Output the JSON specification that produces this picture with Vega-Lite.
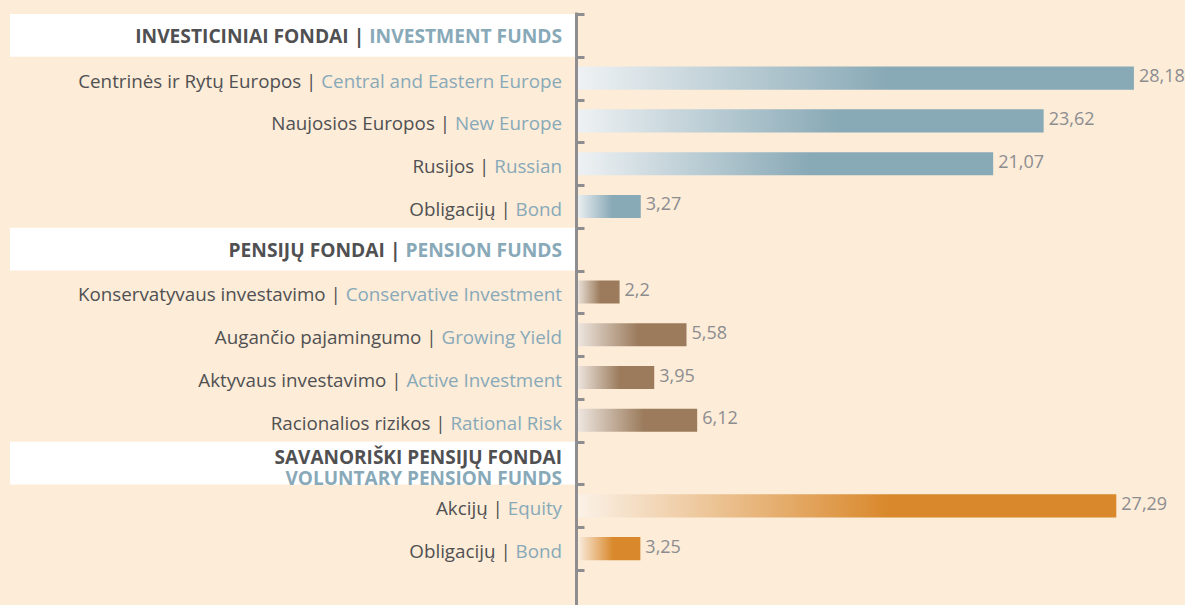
{
  "$schema": "https://vega.github.io/schema/vega-lite/v6.json",
  "width": 1175,
  "height": 593,
  "autosize": "none",
  "padding": {"left": 10, "top": 12, "right": 0, "bottom": 0},
  "background": "#fcecd8",
  "config": {
    "view": {"stroke": null},
    "locale": {"number": {"decimal": ",", "thousands": ".", "grouping": [3], "currency": ["", ""]}},
    "text": {"font": "Open Sans"}
  },
  "data": {
    "values": [
      {"i": 1, "lt": "INVESTICINIAI FONDAI", "en": "INVESTMENT FUNDS", "v": null, "g": "h"},
      {"i": 2, "lt": "Centrinės ir Rytų Europos", "en": "Central and Eastern Europe", "v": 28.18, "g": "inv"},
      {"i": 3, "lt": "Naujosios Europos", "en": "New Europe", "v": 23.62, "g": "inv"},
      {"i": 4, "lt": "Rusijos", "en": "Russian", "v": 21.07, "g": "inv"},
      {"i": 5, "lt": "Obligacijų", "en": "Bond", "v": 3.27, "g": "inv"},
      {"i": 6, "lt": "PENSIJŲ FONDAI", "en": "PENSION FUNDS", "v": null, "g": "h"},
      {"i": 7, "lt": "Konservatyvaus investavimo", "en": "Conservative Investment", "v": 2.2, "g": "pen"},
      {"i": 8, "lt": "Augančio pajamingumo", "en": "Growing Yield", "v": 5.58, "g": "pen"},
      {"i": 9, "lt": "Aktyvaus investavimo", "en": "Active Investment", "v": 3.95, "g": "pen"},
      {"i": 10, "lt": "Racionalios rizikos", "en": "Rational Risk", "v": 6.12, "g": "pen"},
      {"i": 11, "lt": "SAVANORIŠKI PENSIJŲ FONDAI", "en": "VOLUNTARY PENSION FUNDS", "v": null, "g": "h2"},
      {"i": 12, "lt": "Akcijų", "en": "Equity", "v": 27.29, "g": "vol"},
      {"i": 13, "lt": "Obligacijų", "en": "Bond", "v": 3.25, "g": "vol"}
    ]
  },
  "transform": [{"calculate": "datum.lt + ' | ' + datum.en", "as": "full"}],
  "encoding": {
    "y": {
      "field": "i", "type": "ordinal",
      "scale": {"paddingInner": 0, "paddingOuter": 0.4326, "align": 0.054},
      "axis": {"offset": -566, "labels": false, "title": null, "grid": false, "tickBand": "extent",
        "tickSize": -8, "tickWidth": 3, "tickColor": "#8e8e91", "domainColor": "#8e8e91", "domainWidth": 3, "zindex": 1}
    }
  },
  "layer": [
    {
      "transform": [{"filter": "datum.g == 'h' || datum.g == 'h2'"}],
      "mark": {"type": "bar", "color": "#ffffff"},
      "encoding": {
        "x": {"datum": -28.59, "type": "quantitative", "scale": {"domain": [-28.59, 30.76], "nice": false, "zero": false}, "axis": null},
        "x2": {"datum": 0}
      }
    },
    {
      "transform": [{"filter": "datum.g == 'inv'"}],
      "mark": {"type": "bar", "height": {"band": 0.54},
        "color": {"gradient": "linear", "x1": 0, "y1": 0, "x2": 1, "y2": 0,
          "stops": [{"offset": 0, "color": "#eff2f4"}, {"offset": 0.56, "color": "#88a9b6"}, {"offset": 1, "color": "#88a9b6"}]}},
      "encoding": {
        "x": {"field": "v", "type": "quantitative", "scale": {"domain": [-28.59, 30.76], "nice": false, "zero": false}, "axis": null},
        "x2": {"datum": 0}
      }
    },
    {
      "transform": [{"filter": "datum.g == 'pen'"}],
      "mark": {"type": "bar", "height": {"band": 0.54},
        "color": {"gradient": "linear", "x1": 0, "y1": 0, "x2": 1, "y2": 0,
          "stops": [{"offset": 0, "color": "#f0e9e3"}, {"offset": 0.56, "color": "#9b7b5c"}, {"offset": 1, "color": "#9b7b5c"}]}},
      "encoding": {
        "x": {"field": "v", "type": "quantitative"},
        "x2": {"datum": 0}
      }
    },
    {
      "transform": [{"filter": "datum.g == 'vol'"}],
      "mark": {"type": "bar", "height": {"band": 0.54},
        "color": {"gradient": "linear", "x1": 0, "y1": 0, "x2": 1, "y2": 0,
          "stops": [{"offset": 0, "color": "#fbf2e8"}, {"offset": 0.58, "color": "#d9882b"}, {"offset": 1, "color": "#d9882b"}]}},
      "encoding": {
        "x": {"field": "v", "type": "quantitative"},
        "x2": {"datum": 0}
      }
    },
    {
      "transform": [{"filter": "datum.v != null"}],
      "mark": {"type": "text", "align": "left", "baseline": "middle", "dx": 5, "dy": -1, "fontSize": 18, "color": "#8d8d90"},
      "encoding": {
        "x": {"field": "v", "type": "quantitative"},
        "text": {"field": "v", "type": "quantitative", "format": ".2~f"}
      }
    },
    {
      "transform": [{"filter": "datum.v != null"}],
      "mark": {"type": "text", "align": "right", "baseline": "middle", "dx": -14, "dy": 3.5, "fontSize": 18.8, "color": "#505052"},
      "encoding": {"x": {"datum": 0}, "text": {"field": "full"}}
    },
    {
      "transform": [{"filter": "datum.v != null"}],
      "mark": {"type": "text", "align": "right", "baseline": "middle", "dx": -14, "dy": 3.5, "fontSize": 18.8, "color": "#fcecd8", "stroke": "#fcecd8", "strokeWidth": 2.5},
      "encoding": {"x": {"datum": 0}, "text": {"field": "en"}}
    },
    {
      "transform": [{"filter": "datum.v != null"}],
      "mark": {"type": "text", "align": "right", "baseline": "middle", "dx": -14, "dy": 3.5, "fontSize": 18.8, "color": "#88a9b8"},
      "encoding": {"x": {"datum": 0}, "text": {"field": "en"}}
    },
    {
      "transform": [{"filter": "datum.g == 'h'"}],
      "mark": {"type": "text", "align": "right", "baseline": "middle", "dx": -14, "dy": 2, "fontSize": 19.2, "fontWeight": "bold", "color": "#505052"},
      "encoding": {"x": {"datum": 0}, "text": {"field": "full"}}
    },
    {
      "transform": [{"filter": "datum.g == 'h'"}],
      "mark": {"type": "text", "align": "right", "baseline": "middle", "dx": -14, "dy": 2, "fontSize": 19.2, "fontWeight": "bold", "color": "#ffffff", "stroke": "#ffffff", "strokeWidth": 2.5},
      "encoding": {"x": {"datum": 0}, "text": {"field": "en"}}
    },
    {
      "transform": [{"filter": "datum.g == 'h'"}],
      "mark": {"type": "text", "align": "right", "baseline": "middle", "dx": -14, "dy": 2, "fontSize": 19.2, "fontWeight": "bold", "color": "#88a9b8"},
      "encoding": {"x": {"datum": 0}, "text": {"field": "en"}}
    },
    {
      "transform": [{"filter": "datum.g == 'h2'"}],
      "mark": {"type": "text", "align": "right", "baseline": "middle", "dx": -14, "dy": -5, "fontSize": 19, "fontWeight": "bold", "color": "#505052"},
      "encoding": {"x": {"datum": 0}, "text": {"field": "lt"}}
    },
    {
      "transform": [{"filter": "datum.g == 'h2'"}],
      "mark": {"type": "text", "align": "right", "baseline": "middle", "dx": -14, "dy": 16, "fontSize": 19, "fontWeight": "bold", "color": "#88a9b8"},
      "encoding": {"x": {"datum": 0}, "text": {"field": "en"}}
    }
  ]
}
